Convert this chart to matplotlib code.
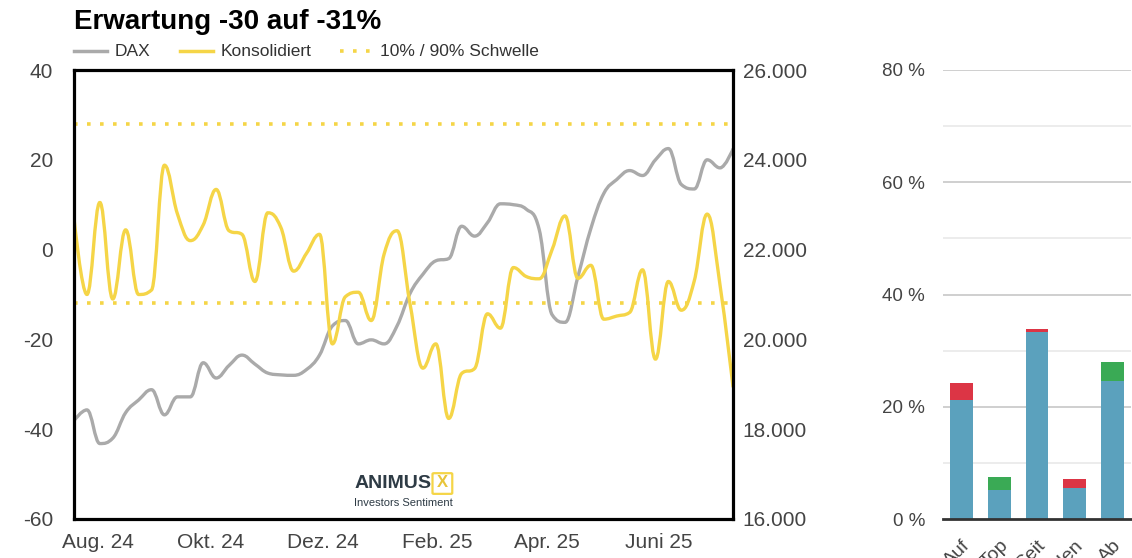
import numpy as np
import pandas as pd
import matplotlib
matplotlib.use("Agg")
import matplotlib.pyplot as plt
import matplotlib.dates as mdates
from matplotlib.path import Path
from matplotlib.patches import PathPatch, FancyBboxPatch
from matplotlib.lines import Line2D
from matplotlib.ticker import FuncFormatter, MultipleLocator

plt.rcParams['font.family'] = ['Liberation Sans', 'DejaVu Sans']
plt.rcParams['axes.unicode_minus'] = False

# --- Daten (woechentlich) ---
dates = pd.date_range("2024-07-19", periods=52, freq="7D")

konsolidiert = [7.0, -10.0, 10.5, -11.0, 4.4, -10.0, -9.0, 18.8, 8.0, 2.0,
                5.5, 13.4, 4.2, 3.4, -7.1, 8.2, 5.0, -4.8, -0.8, 3.4,
                -21.0, -10.5, -9.5, -15.8, -1.0, 4.2, -12.0, -26.4, -21.0, -37.6,
                -27.6, -26.5, -14.3, -17.5, -4.0, -6.0, -6.5, 0.0, 7.5, -6.4,
                -3.5, -15.5, -14.8, -14.0, -4.5, -24.4, -7.1, -13.5, -7.0, 7.9,
                -8.0, -30.5]

dax = [18190, 18430, 17680, 17800, 18370, 18650, 18880, 18320, 18720, 18720,
       19480, 19140, 19420, 19650, 19450, 19250, 19210, 19200, 19330, 19650,
       20300, 20420, 19900, 19990, 19900, 20300, 21020, 21450, 21750, 21800,
       22520, 22300, 22600, 23020, 23000, 22900, 22450, 20550, 20380, 21400,
       22470, 23250, 23560, 23760, 23650, 24000, 24250, 23450, 23350, 24000,
       23820, 24240]

schwelle_oben = 28
schwelle_unten = -12

month_ticks = ["2024-08-01", "2024-10-01", "2024-12-01", "2025-02-01", "2025-04-01", "2025-06-01"]
month_labels = ["Aug. 24", "Okt. 24", "Dez. 24", "Feb. 25", "Apr. 25", "Juni 25"]

# --- Balken rechts ---
bar_cats = ["Auf", "Top", "Seit", "Boden", "Ab"]
bar_base = [21.2, 5.2, 33.3, 5.5, 24.6]
bar_red = [3.0, 0.0, 0.6, 1.6, 0.0]
bar_green = [0.0, 2.3, 0.0, 0.0, 3.4]

YELLOW = "#F5D547"
GRAY = "#AAAAAA"
TXT = "#444444"


def spline_path(xs, ys, smooth=1.5):
    # spline wie im Original (Bezier-Segmente durch die Datenpunkte)
    n = len(xs)
    lc = [(xs[i], ys[i]) for i in range(n)]
    rc = [(xs[i], ys[i]) for i in range(n)]
    d = smooth + 1
    for i in range(1, n - 1):
        x0, y0 = xs[i - 1], ys[i - 1]
        x1, y1 = xs[i], ys[i]
        x2, y2 = xs[i + 1], ys[i + 1]
        lcx = (smooth * x1 + x0) / d
        lcy = (smooth * y1 + y0) / d
        rcx = (smooth * x1 + x2) / d
        rcy = (smooth * y1 + y2) / d
        if rcx != lcx:
            corr = ((rcy - lcy) * (rcx - x1)) / (rcx - lcx) + y1 - rcy
            lcy += corr
            rcy += corr
        if lcy > y0 and lcy > y1:
            lcy = max(y0, y1)
            rcy = 2 * y1 - lcy
        elif lcy < y0 and lcy < y1:
            lcy = min(y0, y1)
            rcy = 2 * y1 - lcy
        if rcy > y2 and rcy > y1:
            rcy = max(y1, y2)
            lcy = 2 * y1 - rcy
        elif rcy < y2 and rcy < y1:
            rcy = min(y1, y2)
            lcy = 2 * y1 - rcy
        lc[i] = (lcx, lcy)
        rc[i] = (rcx, rcy)
    verts = [(xs[0], ys[0])]
    codes = [Path.MOVETO]
    for i in range(1, n):
        verts += [rc[i - 1], lc[i], (xs[i], ys[i])]
        codes += [Path.CURVE4] * 3
    return Path(verts, codes)


fig = plt.figure(figsize=(11.32, 5.58), dpi=100)
ax1 = fig.add_axes([74 / 1132, 1 - 519 / 558, 659 / 1132, 449 / 558])
ax2 = ax1.twinx()
ax1.set_zorder(ax2.get_zorder() + 1)
ax1.patch.set_visible(False)

xnum = mdates.date2num(dates)
x_start = mdates.date2num(pd.Timestamp("2024-07-19"))
x_end = mdates.date2num(pd.Timestamp("2025-07-11"))

# DAX (rechte Achse)
ax2.add_patch(PathPatch(spline_path(xnum, dax), fill=False, edgecolor=GRAY,
                        lw=2.4, capstyle="round", joinstyle="round"))
ax2.set_ylim(16000, 26000)
ax2.yaxis.set_major_locator(MultipleLocator(2000))
ax2.yaxis.set_major_formatter(FuncFormatter(lambda v, p: f"{int(v):,}".replace(",", ".")))
ax2.tick_params(axis="y", length=0, pad=7, labelsize=15, labelcolor=TXT)
for s in ax2.spines.values():
    s.set_visible(False)

# Konsolidiert (linke Achse)
ax1.axhline(schwelle_oben, color=YELLOW, lw=2.6, ls=(0, (1, 2.6)), dash_capstyle="butt")
ax1.axhline(schwelle_unten, color=YELLOW, lw=2.6, ls=(0, (1, 2.6)), dash_capstyle="butt")
ax1.add_patch(PathPatch(spline_path(xnum, konsolidiert), fill=False, edgecolor=YELLOW,
                        lw=2.4, capstyle="round", joinstyle="round"))
ax1.set_ylim(-60, 40)
ax1.set_xlim(x_start, x_end)
ax1.yaxis.set_major_locator(MultipleLocator(20))
ax1.tick_params(axis="y", length=0, pad=15, labelsize=15, labelcolor=TXT)
ax1.set_xticks(mdates.date2num(pd.to_datetime(month_ticks)))
ax1.set_xticklabels(month_labels)
ax1.tick_params(axis="x", length=0, pad=10, labelsize=15, labelcolor=TXT)
for s in ax1.spines.values():
    s.set_linewidth(2.3)
    s.set_color("black")

# Logo
ax1.text(0.425, 0.078, "ANIMUS", transform=ax1.transAxes, ha="left", va="center",
         fontsize=14, fontweight="bold", color="#2E3B45")
ax1.add_patch(FancyBboxPatch((0.546, 0.058), 0.026, 0.042, transform=ax1.transAxes,
                             boxstyle="round,pad=0.002", fill=False, ec=YELLOW, lw=1.6))
ax1.text(0.559, 0.082, "X", transform=ax1.transAxes, ha="center", va="center",
         fontsize=12, fontweight="bold", color="#E8C53A")
ax1.text(0.425, 0.036, "Investors Sentiment", transform=ax1.transAxes, ha="left",
         va="center", fontsize=8, color="#2E3B45")

# Titel und Legende
fig.text(74 / 1132, 1 - 22 / 558, "Erwartung -30 auf -31%", fontsize=20,
         fontweight="bold", ha="left", va="center", color="black")
ly = 1 - 51 / 558
fig.add_artist(Line2D([74 / 1132, 107 / 1132], [ly, ly], color=GRAY, lw=2.5))
fig.text(115 / 1132, ly, "DAX", fontsize=12.5, color="#333333", va="center")
fig.add_artist(Line2D([180 / 1132, 213 / 1132], [ly, ly], color=YELLOW, lw=2.5))
fig.text(221 / 1132, ly, "Konsolidiert", fontsize=12.5, color="#333333", va="center")
fig.add_artist(Line2D([340 / 1132, 372 / 1132], [ly, ly], color=YELLOW, lw=2.6,
                      ls=(0, (1, 2.6)), dash_capstyle="butt"))
fig.text(380 / 1132, ly, "10% / 90% Schwelle", fontsize=12.5, color="#333333", va="center")

# Balkendiagramm
axb = fig.add_axes([943 / 1132, 1 - 519 / 558, 188 / 1132, 449 / 558])
xb = np.arange(len(bar_cats))
axb.bar(xb, bar_base, width=0.61, color="#5BA1BD", zorder=3)
bottom2 = np.array(bar_base)
axb.bar(xb, bar_red, width=0.61, bottom=bottom2, color="#DC3545", zorder=3)
axb.bar(xb, bar_green, width=0.61, bottom=bottom2, color="#3AAA55", zorder=3)
axb.set_xlim(-0.5, 4.5)
axb.set_ylim(0, 80)
for v in range(10, 80, 20):
    axb.axhline(v, color="#EBEBEB", lw=1.3, zorder=1)
for v in range(20, 81, 20):
    axb.axhline(v, color="#CCCCCC", lw=1.3, zorder=1)
axb.set_yticks(range(0, 81, 20))
axb.set_yticklabels([f"{v} %" for v in range(0, 81, 20)])
axb.tick_params(axis="y", length=0, pad=13, labelsize=13.5, labelcolor=TXT)
axb.set_xticks(xb)
axb.set_xticklabels(bar_cats, rotation=45, ha="right", rotation_mode="anchor")
axb.tick_params(axis="x", length=0, pad=13, labelsize=14, labelcolor=TXT)
for k in ["top", "right", "left"]:
    axb.spines[k].set_visible(False)
axb.spines["bottom"].set_color("#333333")
axb.spines["bottom"].set_linewidth(2)
axb.spines["bottom"].set_zorder(4)

fig.savefig("out.png", dpi=100)
